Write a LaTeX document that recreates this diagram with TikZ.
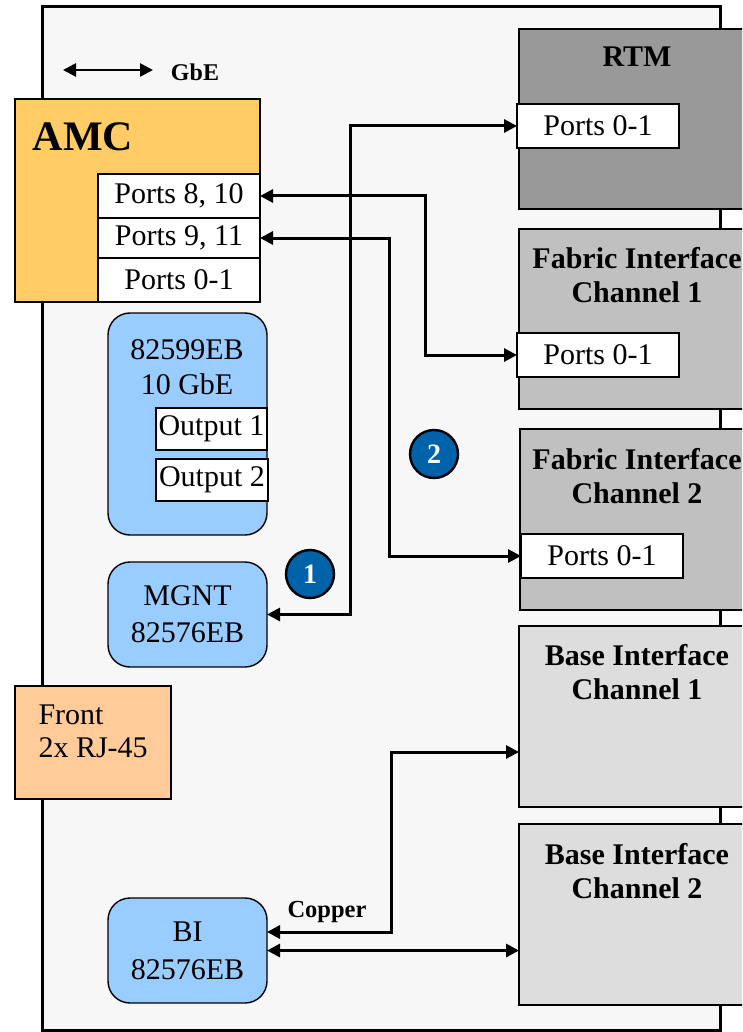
\documentclass[tikz,border=0pt]{standalone}
\usepackage{fontspec}
\setmainfont{Liberation Serif}
\usetikzlibrary{arrows.meta,calc}
\definecolor{bgc}{HTML}{F7F7F7}
\definecolor{rtmc}{HTML}{999999}
\definecolor{fabc}{HTML}{C0C0C0}
\definecolor{basec}{HTML}{DDDDDD}
\definecolor{amcc}{HTML}{FFCC66}
\definecolor{bluec}{HTML}{99CCFF}
\definecolor{frontc}{HTML}{FFCC99}
\definecolor{numc}{HTML}{0062A8}
\begin{document}
\begin{tikzpicture}[x=1pt,y=-1pt,
  box/.style={draw, line width=1.4pt, inner sep=0pt, outer sep=0pt, anchor=north west},
  reg/.style={font=\fontsize{30}{35}\selectfont},
  bld/.style={font=\bfseries\fontsize{30}{34}\selectfont},
  portbox/.style={box, fill=white, reg, minimum width=162pt, minimum height=44pt},
  chip/.style={box, fill=bluec, rounded corners=22pt, minimum width=159pt, reg, align=center},
  conn/.style={line width=3pt},
  numcirc/.style={circle, draw, line width=2.4pt, fill=numc, minimum size=48pt, inner sep=0pt, text=white, font=\bfseries\fontsize{28}{28}\selectfont},
  >={Triangle[length=13pt,width=13pt]}]
\clip (0,0) rectangle (742,1032);
\fill[white] (0,0) rectangle (742,1032);
% frame
\node[box, line width=3pt, fill=bgc, minimum width=678pt, minimum height=1023pt] (frame) at (42,7) {};
% right side blocks
\node[box, fill=rtmc, minimum width=240pt, minimum height=180pt] (rtm) at (519,29) {};
\node[box, fill=fabc, minimum width=240pt, minimum height=180pt] (fab1) at (519,229) {};
\node[box, fill=fabc, minimum width=240pt, minimum height=181pt] (fab2) at (520,429) {};
\node[box, fill=basec, minimum width=240pt, minimum height=181pt] (base1) at (519,626) {};
\node[box, fill=basec, minimum width=240pt, minimum height=181pt] (base2) at (519,824) {};
\node[bld] (rtmt) at (637,57) {RTM};
\node[bld, align=center] (fab1t) at (637,275) {Fabric Interface\\Channel 1};
\node[bld, align=center] (fab2t) at (637,476) {Fabric Interface\\Channel 2};
\node[bld, align=center] (base1t) at (637,672) {Base Interface\\Channel 1};
\node[bld, align=center] (base2t) at (637,871) {Base Interface\\Channel 2};
\node[portbox] (rtmp) at (517,104) {Ports 0-1};
\node[portbox] (f1p) at (517,333) {Ports 0-1};
\node[portbox] (f2p) at (521,534) {Ports 0-1};
% AMC
\node[box, fill=amcc, minimum width=245pt, minimum height=203pt] (amc) at (15,99) {};
\node[font=\bfseries\fontsize{42}{42}\selectfont] (amct) at (83,137) {AMC};
\node[portbox] (p810) at (98,174) {Ports 8, 10};
\node[portbox, minimum height=40pt] (p911) at (98,218) {Ports 9, 11};
\node[portbox] (p01) at (98,258) {Ports 0-1};
% legend
\coordinate (g1) at (63,70);
\coordinate (g2) at (153,70);
\draw[conn, line width=2.6pt, <->] (g1) -- (g2);
\node[font=\bfseries\fontsize{24}{24}\selectfont] (gbe) at (195,72) {GbE};
% chips
\node[chip, minimum height=222pt] (nic) at (108,313) {};
\node[reg, align=center] (nict) at (187,367) {82599EB\\10 GbE};
\node[box, fill=white, reg, minimum width=111pt, minimum height=42pt] (out1) at (156,408) {Output 1};
\node[box, fill=white, reg, minimum width=112pt, minimum height=42pt] (out2) at (156,459) {Output 2};
\node[chip, minimum height=105pt, font=\fontsize{30}{37}\selectfont] (mgnt) at (108,562) {MGNT\\82576EB};
\node[box, fill=frontc, minimum width=156pt, minimum height=113pt] (front) at (15,686) {};
\node[reg, align=left, anchor=west, font=\fontsize{30}{33}\selectfont] (frontt) at (35,731) {Front\\2x RJ-45};
\node[chip, minimum height=105pt, font=\fontsize{30}{38}\selectfont] (bi) at (108,898) {BI\\82576EB};
\node[font=\bfseries\fontsize{24.5}{24.5}\selectfont] (copper) at (327,912) {Copper};
% connectors
\draw[conn, <->] (mgnt.east) -- ++(83,0) |- (rtmp.west);
\draw[conn, <->] (p810.east) -- ++(165,0) |- (f1p.west);
\draw[conn, <->] (p911.east) -- ++(129,0) |- (f2p.west);
\draw[conn, <->] ($(bi.east)+(0,-18.5)$) -- ++(124,0) |- ($(base1.west)+(0,35.5)$);
\draw[conn, <->] (bi.east) -- (base2.west |- bi.east);
% numbers
\node[numcirc] (n1) at (310,574) {1};
\node[numcirc] (n2) at (434,454) {2};
\end{tikzpicture}
\end{document}
